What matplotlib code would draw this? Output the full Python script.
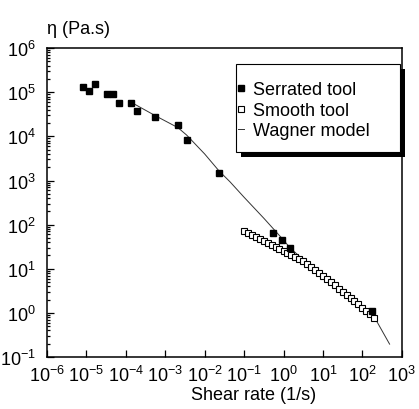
import matplotlib.pyplot as plt
import numpy as np
from matplotlib.patches import Rectangle

plt.rcParams['font.family'] = ['Liberation Sans', 'DejaVu Sans']
plt.rcParams['mathtext.fontset'] = 'custom'
plt.rcParams['mathtext.rm'] = 'Liberation Sans'

# serrated tool (filled squares)
serr_rate = [8.1e-6, 1.17e-5, 1.62e-5, 3.3e-5, 4.8e-5, 6.8e-5, 1.35e-4, 1.95e-4,
             5.6e-4, 2.1e-3, 3.5e-3, 2.3e-2, 0.55, 0.93, 1.48, 174]
serr_eta = [1.32e5, 1.05e5, 1.58e5, 9.1e4, 9.1e4, 5.6e4, 5.6e4, 3.8e4,
            2.8e4, 1.82e4, 8.1e3, 1.5e3, 66, 45, 29, 1.1]

# smooth tool (open squares)
smooth_rate = [0.1, 0.126, 0.158, 0.2, 0.25, 0.316, 0.4, 0.5, 0.63, 0.79,
               1, 1.26, 1.58, 2, 2.5, 3.16, 4, 5, 6.3, 7.9,
               10, 12.6, 15.8, 20, 25, 31.6, 40, 50, 63, 79,
               100, 126, 158, 200]
smooth_eta = [72.4, 64.6, 58.9, 52.5, 47.9, 42.7, 38.9, 34.7, 31.6, 28.2,
              25.7, 22.9, 20.9, 18.6, 16.6, 14.8, 12.9, 11.0, 9.3, 7.9,
              6.8, 5.75, 4.9, 4.17, 3.55, 3.02, 2.57, 2.14, 1.82, 1.55,
              1.32, 1.10, 0.93, 0.78]

# Wagner model curve
wag_rate = [1.6e-4, 5.6e-4, 2.1e-3, 3.5e-3, 1e-2, 2.3e-2, 4.4e-2, 0.1, 0.32,
            0.91, 1.48, 4.0, 10, 31.6, 100, 234, 490]
wag_eta = [5.5e4, 2.95e4, 1.58e4, 1.07e4, 4.0e3, 1.66e3, 933, 417, 138,
           49, 29.5, 13.2, 6.9, 3.0, 1.32, 0.63, 0.195]

xticks = [1e-6, 1e-5, 1e-4, 1e-3, 1e-2, 1e-1, 1e0, 1e1, 1e2, 1e3]
yticks = [1e-1, 1e0, 1e1, 1e2, 1e3, 1e4, 1e5, 1e6]

fig = plt.figure(figsize=(4.19, 4.10), dpi=100)
ax = fig.add_axes([0.112, 0.127, 0.847, 0.753])

ax.plot(wag_rate, wag_eta, color='#333333', lw=0.7, label='Wagner model', zorder=2)
ax.plot(smooth_rate, smooth_eta, ls='none', marker='s', ms=4.3, mfc='white',
        mec='black', mew=0.8, label='Smooth tool', zorder=3)
ax.plot(serr_rate, serr_eta, ls='none', marker='s', ms=4.3, color='black',
        label='Serrated tool', zorder=4)

ax.set_xscale('log')
ax.set_yscale('log')
ax.set_xlim(1e-6, 1e3)
ax.set_ylim(1e-1, 1e6)
ax.set_xticks(xticks)
ax.set_yticks(yticks)
ax.tick_params(which='both', direction='in', top=False, right=False,
               labelsize=13, width=0.9)
ax.tick_params(axis='x', which='major', length=5, pad=6)
ax.tick_params(axis='y', which='major', length=5, pad=8)
ax.tick_params(which='minor', length=2.5)
for s in ax.spines.values():
    s.set_linewidth(1.1)

ax.set_xlabel('Shear rate (1/s)', fontsize=13)
ax.xaxis.set_label_coords(0.583, -0.095)
ax.text(0.0, 1.065, 'η (Pa.s)', transform=ax.transAxes, fontsize=13,
        ha='left', va='center')

handles, labels = ax.get_legend_handles_labels()
order = [2, 1, 0]
leg = ax.legend([handles[i] for i in order], [labels[i] for i in order],
                loc='upper left', bbox_to_anchor=(0.538, 0.893),
                fontsize=13, frameon=False, handlelength=0.35,
                handletextpad=0.5, labelspacing=0.2, borderpad=0,
                borderaxespad=0)
leg.set_zorder(10)

# legend box with black drop shadow, drawn behind the legend entries
box_x0, box_x1 = 0.532, 0.994
box_y0, box_y1 = 0.663, 0.948
frame = Rectangle((box_x0, box_y0), box_x1 - box_x0, box_y1 - box_y0,
                  transform=ax.transAxes, facecolor='white', edgecolor='black',
                  lw=0.8, zorder=9, clip_on=False)
fig.canvas.draw()
bb = frame.get_window_extent()
shadow = Rectangle((bb.x0 + 5, bb.y0 - 5), bb.width, bb.height,
                   transform=None, facecolor='black', edgecolor='none',
                   zorder=8.5, clip_on=False)
ax.add_artist(shadow)
ax.add_artist(frame)

fig.savefig('out.png', dpi=100)
